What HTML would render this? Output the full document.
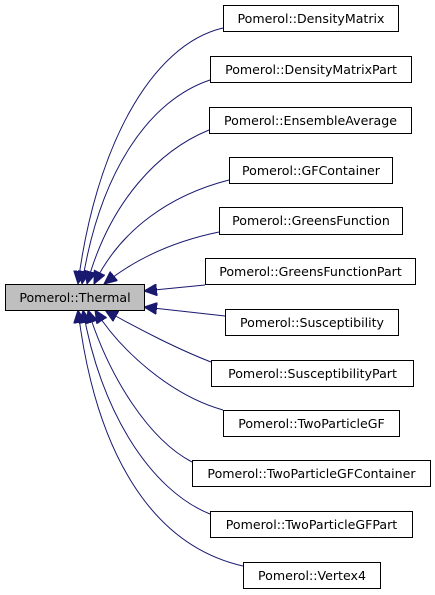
<!DOCTYPE html>
<html><head><meta charset="utf-8"><style>
html,body{margin:0;padding:0;background:#fff;}
svg{display:block}
text{font-family:"DejaVu Sans","Liberation Sans",sans-serif;font-size:12.6px;fill:#000}
</style></head><body>
<svg width="435" height="595" viewBox="0 0 435 595" xmlns="http://www.w3.org/2000/svg">
<defs>
<marker id="a" markerWidth="14" markerHeight="12" refX="13" refY="6" orient="auto" markerUnits="userSpaceOnUse">
<path d="M0,0 L13,6 L0,12 Z" fill="#191970" stroke="#191970"/>
</marker>
</defs>
<g fill="none" stroke="#191970" stroke-width="1" marker-end="url(#a)">
<path d="M223,28 C150,45 95,150 78,284"/>
<path d="M210,80 C150,100 100,170 82,284"/>
<path d="M209,130 C160,150 110,200 87,284"/>
<path d="M229,180 C170,195 120,230 94,284"/>
<path d="M219,232 C180,240 140,255 104,284"/>
<path d="M205,285 C185,287 165,289 144,291"/>
<path d="M225,316 C200,313 170,310 144,307"/>
<path d="M211,362 C180,350 140,330 105,310"/>
<path d="M223,410 C170,395 120,350 95,310"/>
<path d="M192,462 C150,440 110,380 88,310"/>
<path d="M210,514 C150,490 100,410 83,310"/>
<path d="M243,566 C150,545 95,450 78,310"/>
</g>
<rect x="5.5" y="284.5" width="139" height="26" fill="#bfbfbf" stroke="#000"/>
<text x="75" y="302" text-anchor="middle">Pomerol::Thermal</text>
<g fill="#fff" stroke="#000">
<rect x="223.5" y="5.5" width="175" height="26"/>
<rect x="210.5" y="56.5" width="201" height="26"/>
<rect x="209.5" y="107.5" width="202" height="26"/>
<rect x="229.5" y="157.5" width="163" height="26"/>
<rect x="219.5" y="207.5" width="183" height="27"/>
<rect x="205.5" y="258.5" width="210" height="26"/>
<rect x="225.5" y="309.5" width="173" height="26"/>
<rect x="211.5" y="360.5" width="202" height="26"/>
<rect x="223.5" y="410.5" width="176" height="26"/>
<rect x="192.5" y="460.5" width="238" height="26"/>
<rect x="210.5" y="511.5" width="202" height="26"/>
<rect x="243.5" y="562.5" width="137" height="26"/>
</g>
<g text-anchor="middle">
<text x="311" y="23">Pomerol::DensityMatrix</text>
<text x="311" y="74">Pomerol::DensityMatrixPart</text>
<text x="310.5" y="125">Pomerol::EnsembleAverage</text>
<text x="311" y="175">Pomerol::GFContainer</text>
<text x="311" y="225">Pomerol::GreensFunction</text>
<text x="310.5" y="276">Pomerol::GreensFunctionPart</text>
<text x="312" y="327">Pomerol::Susceptibility</text>
<text x="312.5" y="378">Pomerol::SusceptibilityPart</text>
<text x="311.5" y="428">Pomerol::TwoParticleGF</text>
<text x="311.5" y="478">Pomerol::TwoParticleGFContainer</text>
<text x="311.5" y="529">Pomerol::TwoParticleGFPart</text>
<text x="312" y="580">Pomerol::Vertex4</text>
</g>
</svg>
</body></html>
